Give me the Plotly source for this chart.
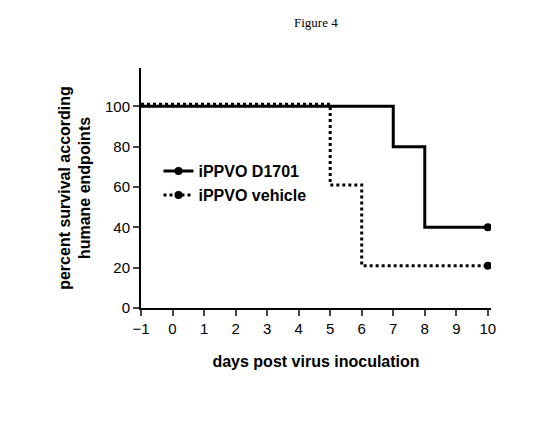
import plotly.graph_objects as go

days_d1701 = [-1, 7, 8, 10]
surv_d1701 = [100, 80, 40, 40]
days_vehicle = [-1, 5, 6, 10]
surv_vehicle = [101, 61, 21, 21]
x_ticks = list(range(-1, 11))
y_ticks = [0, 20, 40, 60, 80, 100]

fig = go.Figure()
fig.add_trace(go.Scatter(x=days_d1701, y=surv_d1701, mode="lines", line_shape="hv",
                         line=dict(color="black", width=3), showlegend=False))
fig.add_trace(go.Scatter(x=days_vehicle, y=surv_vehicle, mode="lines", line_shape="hv",
                         line=dict(color="black", width=3, dash="dot"), showlegend=False))
fig.add_trace(go.Scatter(x=[days_d1701[-1]], y=[surv_d1701[-1]], mode="markers",
                         marker=dict(color="black", size=8), showlegend=False))
fig.add_trace(go.Scatter(x=[days_vehicle[-1]], y=[surv_vehicle[-1]], mode="markers",
                         marker=dict(color="black", size=8), showlegend=False))
# legend entries
fig.add_trace(go.Scatter(x=[None], y=[None], mode="lines+markers", name="<b>iPPVO D1701</b>",
                         line=dict(color="black", width=3), marker=dict(size=8, color="black")))
fig.add_trace(go.Scatter(x=[None], y=[None], mode="lines+markers", name="<b>iPPVO vehicle</b>",
                         line=dict(color="black", width=3, dash="dot"), marker=dict(size=8, color="black")))

fig.add_annotation(x=10.45, y=41, text="*", showarrow=False, font=dict(size=14, color="black"))
fig.add_annotation(x=0.5, y=1.19, xref="paper", yref="paper", xanchor="center", yanchor="middle",
                   text="Figure 4", showarrow=False,
                   font=dict(family="Liberation Serif", size=13, color="black"))

fig.update_layout(
    width=548, height=429, plot_bgcolor="white", paper_bgcolor="white",
    margin=dict(l=133, r=65, t=60, b=129),
    font=dict(family="Liberation Sans", color="black", size=15),
    legend=dict(x=0.05, y=0.52, bgcolor="rgba(0,0,0,0)", font=dict(size=16), tracegroupgap=2),
)
fig.update_xaxes(range=[-1, 10.1], tickvals=x_ticks, showgrid=False, zeroline=False,
                 showline=True, linecolor="black", linewidth=2, ticks="outside", ticklen=6,
                 tickwidth=2, tickfont=dict(size=15),
                 tickprefix="<b>", ticksuffix="</b>",
                 title=dict(text="<b>days post virus inoculation</b>", font=dict(size=16), standoff=20))
fig.update_yaxes(range=[0, 119], tickvals=y_ticks, showgrid=False, zeroline=False,
                 showline=True, linecolor="black", linewidth=2, ticks="outside", ticklen=6,
                 tickwidth=2, tickfont=dict(size=15),
                 tickprefix="<b>", ticksuffix="</b>",
                 title=dict(text="<b>percent survival according<br>humane endpoints</b>",
                            font=dict(size=16), standoff=10))
fig.write_html("out.html")
